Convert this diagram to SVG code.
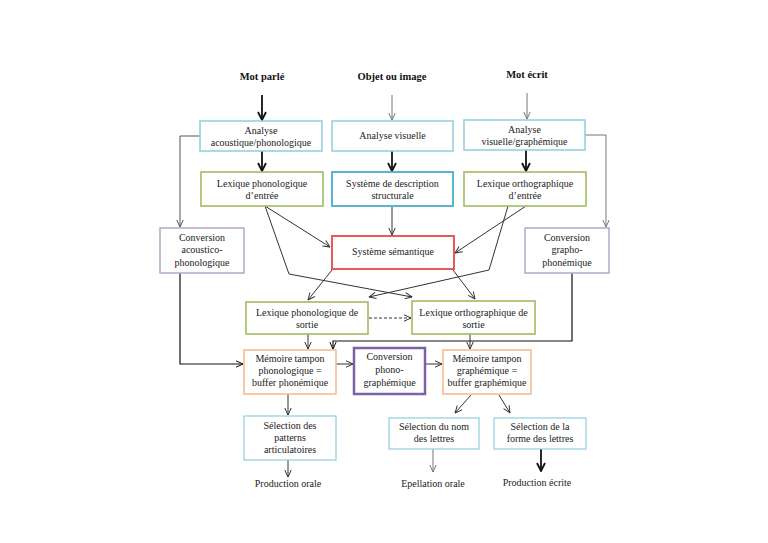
<svg xmlns="http://www.w3.org/2000/svg" width="768" height="543" viewBox="0 0 768 543">
<defs>
<marker id="ah" markerUnits="userSpaceOnUse" viewBox="0 0 8 8" refX="7.5" refY="4" markerWidth="8" markerHeight="8" orient="auto">
<path d="M0.5,0.8 L7.5,4 L0.5,7.2" fill="none" stroke="context-stroke" stroke-width="1"/>
</marker>
<marker id="ahk" markerUnits="userSpaceOnUse" viewBox="0 0 10 10" refX="9" refY="5" markerWidth="10" markerHeight="10" orient="auto">
<path d="M1,1 L9,5 L1,9" fill="none" stroke="#111" stroke-width="1.8"/>
</marker>
<style>
text{font-family:"Liberation Serif","Times New Roman",serif;font-size:10px;fill:#222;text-anchor:middle}
.t{font-weight:bold;font-size:10.5px;fill:#111}
rect{fill:#fff}
.lb{stroke:#92cddc;stroke-width:1.5}
.db{stroke:#5bb5cf;stroke-width:2}
.gr{stroke:#a6c06a;stroke-width:1.7}
.rd{stroke:#e8585d;stroke-width:2}
.pl{stroke:#b3a6cc;stroke-width:1.5}
.pd{stroke:#7a62a6;stroke-width:2.5}
.or{stroke:#f5b88b;stroke-width:1.5}
.sb{stroke:#92cddc;stroke-width:1.2}
.c path{fill:none;stroke:#333;stroke-width:1;marker-end:url(#ah)}
.c path.k{stroke:#111;stroke-width:1.8;marker-end:url(#ahk)}
.c path.g{stroke:#777}
.c path.n{marker-end:none}
</style>
</defs>
<rect x="0" y="0" width="768" height="543" fill="#fff"/>

<g id="connectors" class="c">
<path class="k" d="M262,95 V120"/>
<path class="g" d="M392,95 V120"/>
<path class="g" d="M527,93 V119"/>
<path class="k" d="M262,151 V171"/>
<path class="k" d="M392,151 V171"/>
<path class="k" d="M526,150 V171"/>
<path d="M200,136 H180 V227" style="stroke:#555"/>
<path class="g" d="M585,135 H606 V227"/>
<path d="M392,206 V235"/>
<path d="M265,206 L330,247"/>
<path d="M265,206 L289,274 L412,297"/>
<path d="M526,206 L455,253"/>
<path d="M508,206 L489,270 L369,297"/>
<path d="M332,270 L308,300"/>
<path d="M453,270 L475,299"/>
<path d="M369,318 H411" stroke-dasharray="3,2"/>
<path d="M308,334 V349"/>
<path d="M470,334 V349"/>
<path d="M572,273 V341 H333 V349" style="stroke:#111;stroke-width:1.2"/>
<path d="M180,273 V364 H243" style="stroke:#111;stroke-width:1.2"/>
<path d="M336,364 H353"/>
<path d="M425,364 H442"/>
<path d="M288,394 V415"/>
<path d="M471,395 L455,413"/>
<path d="M499,395 L510,413"/>
<path d="M288,460 V477"/>
<path class="g" d="M433,449 V472"/>
<path class="k" d="M541,449 V471"/>
</g>

<g id="mot-parle"><text class="t" x="262" y="80">Mot parlé</text></g>
<g id="objet-image"><text class="t" x="392" y="80">Objet ou image</text></g>
<g id="mot-ecrit"><text class="t" x="527" y="78">Mot écrit</text></g>

<g id="analyse-acoustique">
<rect class="lb" x="200" y="121" width="122" height="30"/>
<text x="261" y="134">Analyse</text>
<text x="261" y="146">acoustique/phonologique</text>
</g>
<g id="analyse-visuelle">
<rect class="lb" x="332" y="121" width="121" height="30"/>
<text x="392.5" y="139">Analyse visuelle</text>
</g>
<g id="analyse-graphemique">
<rect class="lb" x="464" y="120" width="121" height="30"/>
<text x="524.5" y="133">Analyse</text>
<text x="524.5" y="145">visuelle/graphémique</text>
</g>

<g id="lexique-phono-entree">
<rect class="gr" x="201" y="172" width="122" height="34"/>
<text x="262" y="187">Lexique phonologique</text>
<text x="262" y="199">d’entrée</text>
</g>
<g id="systeme-description">
<rect class="db" x="332" y="172" width="121" height="34"/>
<text x="392.5" y="187">Système de description</text>
<text x="392.5" y="199">structurale</text>
</g>
<g id="lexique-ortho-entree">
<rect class="gr" x="464" y="172" width="122" height="34"/>
<text x="525" y="187">Lexique orthographique</text>
<text x="525" y="199">d’entrée</text>
</g>

<g id="conversion-acoustico">
<rect class="pl" x="160" y="228" width="84" height="45"/>
<text x="202" y="241">Conversion</text>
<text x="202" y="253">acoustico-</text>
<text x="202" y="266">phonologique</text>
</g>
<g id="systeme-semantique">
<rect class="rd" x="332" y="236" width="122" height="33"/>
<text x="393" y="255">Système sémantique</text>
</g>
<g id="conversion-grapho">
<rect class="pl" x="525" y="228" width="84" height="45"/>
<text x="567" y="241">Conversion</text>
<text x="567" y="253">grapho-</text>
<text x="567" y="266">phonémique</text>
</g>

<g id="lexique-phono-sortie">
<rect class="gr" x="246" y="302" width="122" height="32"/>
<text x="307" y="316">Lexique phonologique de</text>
<text x="307" y="328">sortie</text>
</g>
<g id="lexique-ortho-sortie">
<rect class="gr" x="412" y="301" width="123" height="33"/>
<text x="473.5" y="316">Lexique orthographique de</text>
<text x="473.5" y="328">sortie</text>
</g>

<g id="memoire-phono">
<rect class="or" x="244" y="350" width="92" height="44"/>
<text x="290" y="362">Mémoire tampon</text>
<text x="290" y="374">phonologique =</text>
<text x="290" y="386">buffer phonémique</text>
</g>
<g id="conversion-phono-graph">
<rect class="pd" x="354" y="348" width="71" height="46"/>
<text x="389.5" y="360">Conversion</text>
<text x="389.5" y="373">phono-</text>
<text x="389.5" y="386">graphémique</text>
</g>
<g id="memoire-graph">
<rect class="or" x="443" y="350" width="88" height="44"/>
<text x="487" y="362">Mémoire tampon</text>
<text x="487" y="374">graphémique =</text>
<text x="487" y="386">buffer graphémique</text>
</g>

<g id="selection-patterns">
<rect class="sb" x="244" y="416" width="92" height="44"/>
<text x="290" y="429">Sélection des</text>
<text x="290" y="441">patterns</text>
<text x="290" y="453">articulatoires</text>
</g>
<g id="selection-nom">
<rect class="sb" x="389" y="418" width="90" height="31"/>
<text x="434" y="430">Sélection du nom</text>
<text x="434" y="442">des lettres</text>
</g>
<g id="selection-forme">
<rect class="sb" x="494" y="418" width="92" height="31"/>
<text x="540" y="430">Sélection de la</text>
<text x="540" y="442">forme des lettres</text>
</g>

<g id="production-orale"><text x="288" y="487">Production orale</text></g>
<g id="epellation-orale"><text x="433" y="487">Epellation orale</text></g>
<g id="production-ecrite"><text x="537" y="486">Production écrite</text></g>
</svg>
